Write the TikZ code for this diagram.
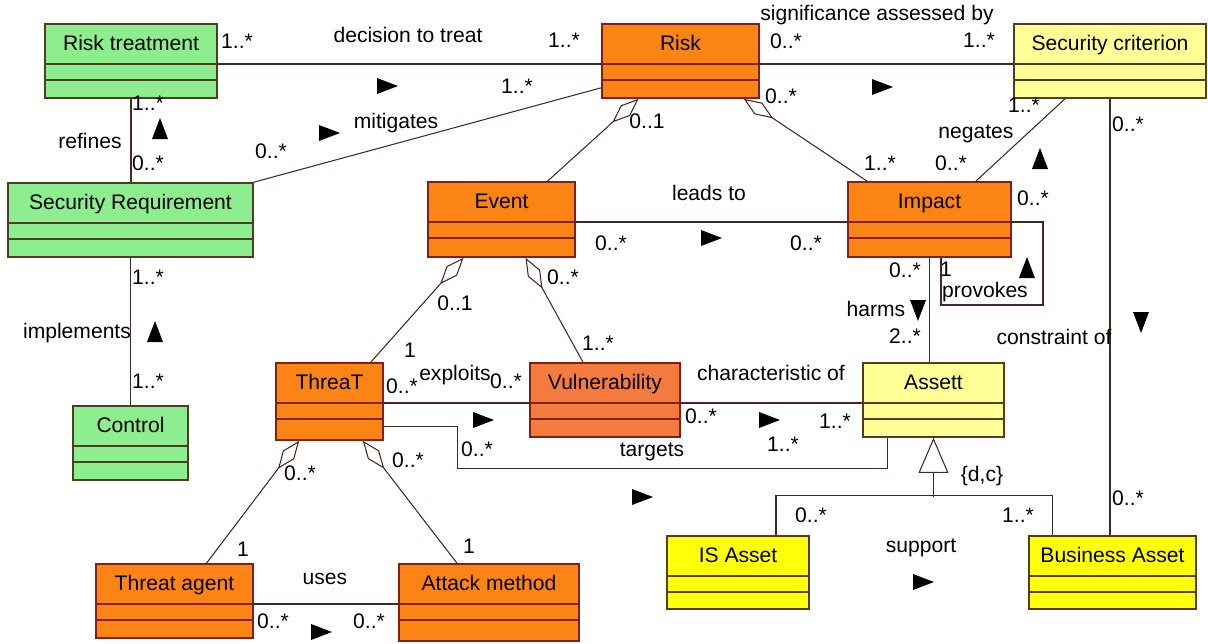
\documentclass[tikz,border=0pt]{standalone}
\usepackage{fontspec}
\setmainfont{Liberation Sans}
\usetikzlibrary{calc,fit,arrows.meta}

\definecolor{umlgreen}{RGB}{140,238,140}
\definecolor{umlorange}{RGB}{252,132,20}
\definecolor{umlvuln}{RGB}{245,122,62}
\definecolor{umlpale}{RGB}{255,255,150}
\definecolor{umlyellow}{RGB}{255,255,10}
\definecolor{greenline}{RGB}{75,62,35}
\definecolor{orangeline}{RGB}{130,32,18}
\definecolor{yellowline}{RGB}{88,58,30}
\definecolor{connline}{RGB}{70,40,30}

\tikzset{
  umlfont/.style={font=\fontsize{12}{14}\selectfont},
  classbox/.style={rectangle, inner sep=0pt, line width=0.9pt},
  greenbox/.style={classbox, draw=greenline, fill=umlgreen},
  orangebox/.style={classbox, draw=orangeline, fill=umlorange},
  vulnbox/.style={classbox, draw=orangeline, fill=umlvuln},
  paleyellowbox/.style={classbox, draw=yellowline, fill=umlpale},
  yellowbox/.style={classbox, draw=yellowline, fill=umlyellow},
  lbl/.style={inner sep=0pt, text height=1.5ex, text depth=.25ex},
  aggr/.style={-{Diamond[open,length=20pt,width=8pt]}},
  navtri/.pic={\fill[black] (-10,-8) -- (11,0) -- (-10,8) -- cycle;}
}

% name, style, left, top, right, bottom, title
\newcommand\umlclass[7]{%
  \node[#2, fit={(#3,#4) (#5,#6)}] (#1) {};
  \node[anchor=base] (#1-t) at ($(#1.north)+(0,27)$) {#7};
  \draw[#2] (#3,#4+40) coordinate (#1-hw) -- (#5,#4+40) coordinate (#1-he);
  \draw[#2] (#3,#4+56) -- (#5,#4+56);
}

\begin{document}
\begin{tikzpicture}[x=0.02cm, y=-0.02cm, umlfont, line width=0.6pt, draw=connline]
  \useasboundingbox (0,0) rectangle (1208,643);

  \umlclass{rt}{greenbox}{45}{24}{217}{98}{Risk treatment}
  \umlclass{sr}{greenbox}{8}{183}{253}{257}{Security Requirement}
  \umlclass{ctrl}{greenbox}{73}{406}{188}{480}{Control}
  \umlclass{risk}{orangebox}{602}{24}{759}{98}{Risk}
  \umlclass{sc}{paleyellowbox}{1014}{24}{1206}{98}{Security criterion}
  \umlclass{event}{orangebox}{428}{182}{575}{257}{Event}
  \umlclass{impact}{orangebox}{848}{182}{1011}{257}{Impact}
  \umlclass{threat}{orangebox}{276}{363}{383}{440}{ThreaT}
  \umlclass{vuln}{vulnbox}{530}{363}{680}{437}{Vulnerability}
  \umlclass{assett}{paleyellowbox}{863}{363}{1004}{437}{Assett}
  \umlclass{agent}{orangebox}{96}{564}{253}{638}{Threat agent}
  \umlclass{attack}{orangebox}{399}{564}{579}{641}{Attack method}
  \umlclass{isasset}{yellowbox}{667}{536}{809}{609}{IS Asset}
  \umlclass{basset}{yellowbox}{1029}{536}{1196}{609}{Business Asset}

  % associations
  \draw (rt-he) -- (risk-hw);
  \draw (risk-he) -- (sc-hw);
  \draw (event-he) -- (impact-hw);
  \draw (threat-he) -- (vuln-hw);
  \draw (vuln-he) -- (assett-hw);
  \draw (agent-he) -- (attack-hw);
  \draw (rt.south) -- (rt.south |- sr.north);
  \draw (sr.south) -- (sr.south |- ctrl.north);
  \draw (sr.north east) -- ($(risk.south west)+(0,-11)$);
  \draw (impact.south) -- (impact.south |- assett.north);
  \draw (sc.south) -- (sc.south |- basset.north);
  \draw ($(sc.south)+(-45,0)$) -- ($(impact.north east)+(-36,0)$);
  \draw (impact-he) -- ++(32,0) -- ++(0,83) -- ++(-102,0) -- ++(0,-47);
  \draw ($(threat.south east)+(0,-14)$) -- ++(74,0) |- ($(assett.south west)+(25,31)$)
    -- ($(assett.south west)+(25,0)$);

  % aggregations
  \draw[aggr] ($(event.north)+(46,0)$) -- ($(risk.south)+(-42,0)$);
  \draw[aggr] ($(impact.north west)+(20,0)$) -- ($(risk.south east)+(-16,0)$);
  \draw[aggr] ($(threat.north east)+(-13,0)$) -- ($(event.south)+(-38,0)$);
  \draw[aggr] ($(vuln.north)+(-22,0)$) -- ($(event.south)+(24,0)$);
  \draw[aggr] ($(agent.north)+(32,0)$) -- ($(threat.south west)+(24,0)$);
  \draw[aggr] ($(attack.north)+(-32,0)$) -- ($(threat.south east)+(-21,0)$);

  % generalization
  \draw ($(isasset.north)+(38,0)$) |- ($(basset.north west)+(24,-40)$) -- ($(basset.north west)+(24,0)$);
  \draw[-{Triangle[open,length=20pt,width=17pt]}] ($(assett.south)+(0,59)$) -- (assett.south);

  % multiplicities
  \foreach \x/\y/\t [count=\i] in {237/43/1..*, 564/42/1..*, 786/43/0..*, 979/42/1..*,
      517/88/1..*, 271/153/0..*, 647/123/0..1, 781/98/0..*, 880/165/1..*, 951/165/0..*,
      1024/107/1..*, 1128/126/0..*, 1033/200/0..*, 148/105/1..*, 148/165/0..*,
      148/279/1..*, 148/383/1..*, 611/245/0..*, 806/245/0..*, 455/305/0..1, 410/352/1,
      563/279/0..*, 598/345/1..*, 402/388/0..*, 506/383/0..*, 701/418/0..*, 835/423/1..*,
      477/451/0..*, 783/446/1..*, 300/475/0..*, 243/551/1, 408/462/0..*, 469/548/1,
      273/623/0..*, 369/623/0..*, 905/272/0..*, 905/338/2..*, 946/271/1,
      1128/500/0..*, 811/517/0..*, 1018/517/1..*}
    \node[lbl] (m\i) at (\x,\y) {\t};

  % association names
  \foreach \x/\y/\t [count=\i] in {408/37/decision to treat, 877/15/significance assessed by,
      396/123/mitigates, 90/143/refines, 77/333/implements, 709/195/leads to,
      976/133/negates, 455/375/exploits, 771/375/characteristic of, 652/451/targets,
      325/579/uses, 876/311/harms, 985/292/provokes, 1054/339/constraint of, 921/547/support}
    \node[lbl] (a\i) at (\x,\y) {\t};
  \node[lbl] (dc) at (982,476) {\{d,c\}};

  % reading directions
  \foreach \x/\y/\r in {387/86/0, 882/87/0, 329/133/0, 160/129/90, 155/332/90, 1040/159/90,
      1027/268/90, 918/310/-90, 1141/322/-90, 711/238/0, 483/420/0, 769/420/0,
      642/497/0, 923/582/0, 321/632/0}
    \pic[rotate=\r] at (\x,\y) {navtri};

\end{tikzpicture}
\end{document}
